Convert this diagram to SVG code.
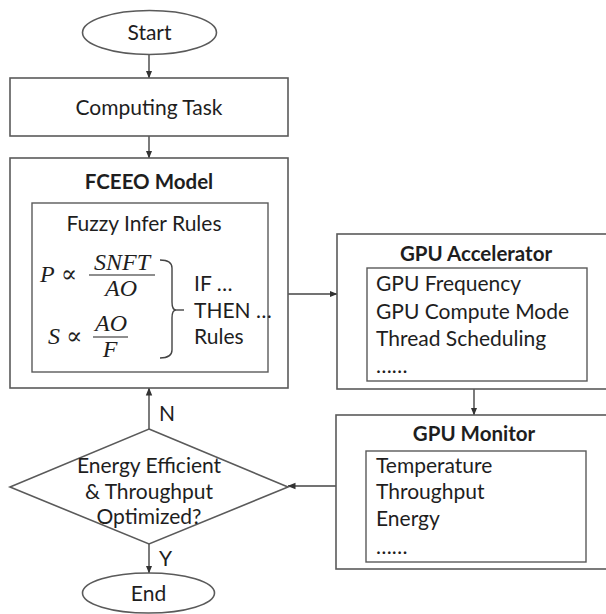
<svg xmlns="http://www.w3.org/2000/svg" width="606" height="614" viewBox="0 0 606 614">
  <style>
    .shape { fill: #ffffff; stroke: #5a5a5a; stroke-width: 1.6; }
    .inner { fill: #ffffff; stroke: #5a5a5a; stroke-width: 1.4; }
    .wire { fill: none; stroke: #444444; stroke-width: 1.4; }
    .txt { font-family: Lato, "Open Sans", sans-serif; font-size: 21px; fill: #1e1e1e; }
    .mid { text-anchor: middle; }
    .bold { font-weight: bold; font-size: 20.5px; }
    .math { font-family: "Liberation Serif", "DejaVu Serif", serif; font-size: 24px; fill: #1e1e1e; }
    .it { font-style: italic; }
  </style>
  <defs>
    <marker id="arrow" viewBox="0 0 8 8" refX="7.5" refY="4" markerWidth="8" markerHeight="8" markerUnits="userSpaceOnUse" orient="auto">
      <path d="M0,0.8 L8,4 L0,7.2 Z" fill="#333333"/>
    </marker>
  </defs>

  <rect width="606" height="614" fill="#ffffff"/>

  <!-- connectors -->
  <g id="connectors">
    <line class="wire" x1="149" y1="55" x2="149" y2="78" marker-end="url(#arrow)"/>
    <line class="wire" x1="149" y1="136" x2="149" y2="158" marker-end="url(#arrow)"/>
    <line class="wire" x1="288" y1="294" x2="337" y2="294" marker-end="url(#arrow)"/>
    <line class="wire" x1="474" y1="389" x2="474" y2="415" marker-end="url(#arrow)"/>
    <line class="wire" x1="336" y1="486" x2="288" y2="486" marker-end="url(#arrow)"/>
    <line class="wire" x1="149" y1="429" x2="149" y2="388" marker-end="url(#arrow)"/>
    <line class="wire" x1="149" y1="544" x2="149" y2="573" marker-end="url(#arrow)"/>
    <text class="txt" x="159" y="421">N</text>
    <text class="txt" x="159" y="566">Y</text>
  </g>

  <!-- start terminal -->
  <g id="start">
    <ellipse class="shape" cx="149.5" cy="32.5" rx="67" ry="22"/>
    <text class="txt mid" x="149.5" y="40">Start</text>
  </g>

  <!-- computing task -->
  <g id="computing-task">
    <rect class="shape" x="10" y="78" width="278" height="58"/>
    <text class="txt mid" x="149" y="115">Computing Task</text>
  </g>

  <!-- FCEEO model with fuzzy rule block -->
  <g id="fceeo-model">
    <rect class="shape" x="10" y="158" width="278" height="230"/>
    <text class="txt mid bold" x="149" y="189">FCEEO Model</text>
    <rect class="inner" x="32" y="203" width="236" height="169"/>
    <text class="txt mid" x="144" y="231">Fuzzy Infer Rules</text>

    <!-- P ∝ SNFT / AO -->
    <text class="math" x="40" y="282"><tspan class="it">P</tspan> ∝</text>
    <text class="math it mid" x="122" y="270">SNFT</text>
    <line x1="89" y1="275" x2="155" y2="275" stroke="#1e1e1e" stroke-width="1.2"/>
    <text class="math it mid" x="121" y="296">AO</text>

    <!-- S ∝ AO / F -->
    <text class="math" x="48" y="344"><tspan class="it">S</tspan> ∝</text>
    <text class="math it mid" x="111" y="331">AO</text>
    <line x1="93" y1="337" x2="128" y2="337" stroke="#1e1e1e" stroke-width="1.2"/>
    <text class="math it mid" x="110" y="357">F</text>

    <!-- brace grouping both relations -->
    <path class="wire" d="M160,260 Q172,260 172,268 L172,302 Q172,310 176,310 Q172,310 172,318 L172,350 Q172,358 160,358"/>
    <line class="wire" x1="176" y1="310" x2="184" y2="310"/>

    <text class="txt" x="194" y="291">IF …</text>
    <text class="txt" x="194" y="318">THEN …</text>
    <text class="txt" x="194" y="344">Rules</text>
  </g>

  <!-- GPU accelerator -->
  <g id="gpu-accelerator">
    <rect class="shape" x="337" y="234" width="280" height="155"/>
    <text class="txt mid bold" x="476" y="261">GPU Accelerator</text>
    <rect class="inner" x="367" y="268" width="220" height="113"/>
    <text class="txt" x="376" y="291">GPU Frequency</text>
    <text class="txt" x="376" y="319">GPU Compute Mode</text>
    <text class="txt" x="376" y="346">Thread Scheduling</text>
    <text class="txt" x="376" y="373">……</text>
  </g>

  <!-- GPU monitor -->
  <g id="gpu-monitor">
    <rect class="shape" x="336" y="415" width="280" height="154"/>
    <text class="txt mid bold" x="474" y="441">GPU Monitor</text>
    <rect class="inner" x="366" y="451" width="220" height="111"/>
    <text class="txt" x="376" y="473">Temperature</text>
    <text class="txt" x="376" y="499">Throughput</text>
    <text class="txt" x="376" y="526">Energy</text>
    <text class="txt" x="376" y="554">……</text>
  </g>

  <!-- decision -->
  <g id="decision">
    <polygon class="shape" points="149,429 288,487 149,544 10,487"/>
    <text class="txt mid" x="149" y="473">Energy Efficient</text>
    <text class="txt mid" x="149" y="499">&amp; Throughput</text>
    <text class="txt mid" x="149" y="524">Optimized?</text>
  </g>

  <!-- end terminal -->
  <g id="end">
    <ellipse class="shape" cx="148.5" cy="593" rx="66" ry="20"/>
    <text class="txt mid" x="148.5" y="601">End</text>
  </g>
</svg>
